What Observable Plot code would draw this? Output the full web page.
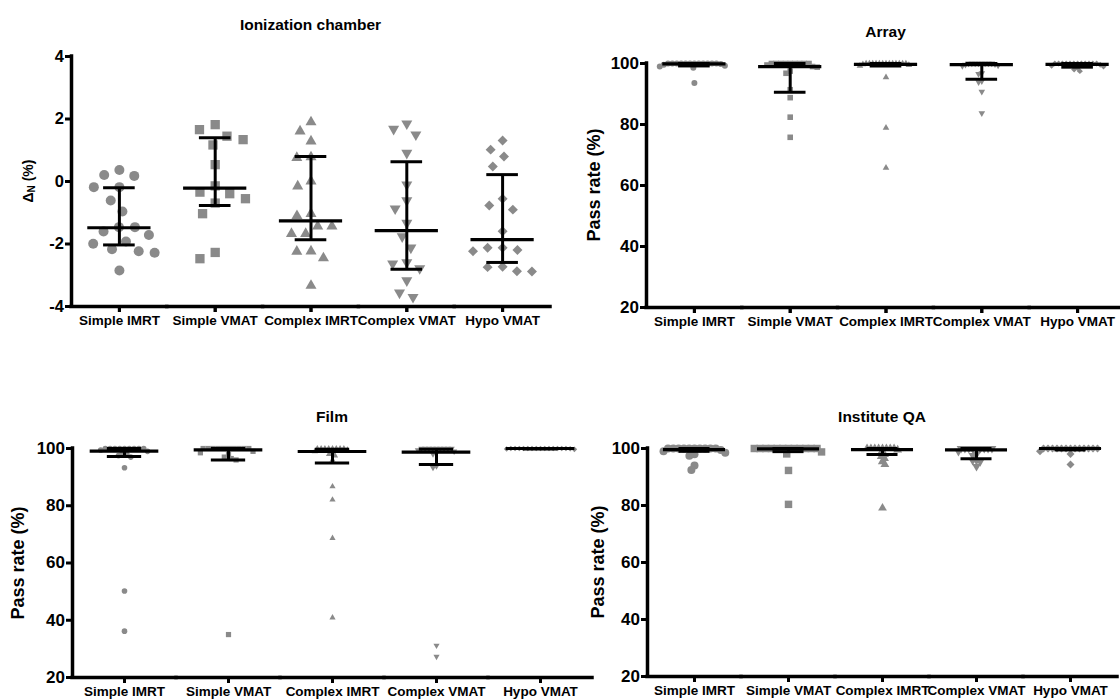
<!DOCTYPE html>
<html><head><meta charset="utf-8">
<script src="https://cdn.jsdelivr.net/npm/d3@7"></script>
<script src="https://cdn.jsdelivr.net/npm/@observablehq/plot@0.6"></script>
<style>
body{margin:0;background:#fff;overflow:hidden;font-family:"Liberation Sans",Arial,sans-serif;}
#wrap{position:relative;width:1120px;height:700px;overflow:hidden;}
.panel{position:absolute;}
.title{position:absolute;font-weight:bold;font-size:15.5px;transform:translate(-50%,-50%);white-space:nowrap;color:#000;}
.ylab{position:absolute;font-weight:bold;font-size:18px;transform:translate(-50%,-50%) rotate(-90deg);white-space:nowrap;color:#000;}
.ylab.small{font-size:14px;}
.ylab sub{font-size:10px;vertical-align:-2px;}
</style></head><body><div id="wrap"></div>
<script>
const categories = ["Simple IMRT", "Simple VMAT", "Complex IMRT", "Complex VMAT", "Hypo VMAT"];

// Ionization chamber: ΔN (%)
const ionizationValues = [
  [0.37, 0.21, 0.18, -0.18, -0.18, -0.61, -0.96, -1.46, -1.46, -1.6, -1.71, -1.92, -1.99, -2.17, -2.23, -2.28, -2.85],
  [1.82, 1.66, 1.45, 1.34, 1.17, 0.54, -0.14, -0.34, -0.39, -0.55, -0.69, -1.03, -2.27, -2.47],
  [1.9, 1.61, 1.29, 0.78, 0.76, 0.01, -0.15, -1.03, -1.1, -1.43, -1.43, -1.67, -1.67, -2.23, -2.24, -2.45, -3.33],
  [1.85, 1.68, 1.5, 0.91, -0.1, -0.61, -0.87, -1.33, -1.76, -2.12, -2.59, -2.63, -2.78, -3.17, -3.56, -3.7],
  [1.31, 1.02, 0.8, 0.48, -0.55, -0.77, -0.9, -1.59, -2.12, -2.12, -2.19, -2.23, -2.73, -2.74, -2.87, -2.88]
];
const ionizationMedian = [-1.48, -0.21, -1.26, -1.57, -1.86];
const ionizationQ1 = [-2.03, -0.77, -1.86, -2.81, -2.59];
const ionizationQ3 = [-0.2, 1.40, 0.8, 0.63, 0.22];

// Array: pass rate (%)
const arrayValues = [
  [100, 100, 100, 100, 100, 100, 100, 100, 100, 100, 100, 100, 99.8, 99.6, 99.3, 99, 98.6, 93.6],
  [100, 100, 100, 100, 100, 100, 100, 100, 100, 99.5, 99, 98.8, 97.5, 96.8, 91.4, 88.8, 82.4, 75.8],
  [100, 100, 100, 100, 100, 100, 100, 100, 100, 100, 100, 100, 100, 99.7, 99.5, 99.2, 95.5, 78.9, 65.8],
  [100, 100, 100, 100, 100, 100, 100, 100, 99.8, 99.6, 99.4, 99.2, 96.8, 96.6, 94.2, 93.9, 90.8, 83.7],
  [100, 100, 100, 100, 100, 100, 100, 100, 100, 100, 100, 100, 99.6, 99.3, 99, 98.5, 98, 97.5]
];
const arrayMedian = [99.9, 99.0, 99.7, 99.6, 99.7];
const arrayQ1 = [99.2, 90.6, 99.2, 94.8, 98.8];
const arrayQ3 = [100, 100, 100, 100, 100];

// Film: pass rate (%)
const filmValues = [
  [100, 100, 100, 100, 100, 100, 100, 100, 100, 99.5, 99, 98.5, 98, 97.5, 97, 93.3, 50.2, 36.2],
  [100, 100, 100, 100, 100, 100, 100, 100, 100, 100, 99, 98.5, 98, 97, 96.5, 96, 35.0],
  [100, 100, 100, 100, 100, 100, 100, 100, 99.5, 99, 98.5, 98, 97.5, 96, 86.7, 82.1, 68.7, 40.9],
  [100, 100, 100, 100, 100, 100, 100, 100, 100, 99.5, 99, 98.5, 98, 93.8, 93.3, 31.2, 27.3],
  [100, 100, 100, 100, 100, 100, 100, 100, 100, 100, 100, 100, 100, 100, 99.9, 99.8, 99.7]
];
const filmMedian = [99.1, 99.5, 98.95, 98.7, 100];
const filmQ1 = [97.2, 96.0, 94.9, 94.4, 99.8];
const filmQ3 = [100, 100, 99.7, 99.7, 100];

// Institute QA: pass rate (%)
const instituteValues = [
  [100, 100, 100, 100, 100, 100, 100, 100, 100, 100, 99.5, 99, 98.5, 98, 97.5, 94.0, 92.5],
  [100, 100, 100, 100, 100, 100, 100, 100, 100, 100, 100, 100, 98.8, 98.1, 92.3, 80.4],
  [100, 100, 100, 100, 100, 100, 100, 100, 99.5, 98.7, 97.9, 97.2, 96.5, 95.4, 94.4, 79.1],
  [100, 100, 100, 100, 100, 100, 100, 100, 100, 99, 98, 97.5, 95.8, 95.8, 95.4, 93.7],
  [100, 100, 100, 100, 100, 100, 100, 100, 100, 100, 100, 100, 100, 99, 98.1, 94.4]
];
const instituteMedian = [99.6, 99.9, 99.6, 99.5, 100];
const instituteQ1 = [99.0, 98.9, 97.9, 96.4, 99.5];
const instituteQ3 = [100, 100, 100, 100, 100];

const yTicksDelta = [-4, -2, 0, 2, 4];
const yTicksPass = [20, 40, 60, 80, 100];

// custom downward triangle symbol
const sqrt3 = Math.sqrt(3);
const triangleDown = {
  draw(context, size) {
    const y = -Math.sqrt(size / (sqrt3 * 3));
    context.moveTo(0, -y * 2);
    context.lineTo(-sqrt3 * y, y);
    context.lineTo(sqrt3 * y, y);
    context.closePath();
  }
};
const symbols = ["circle", "square", "triangle", triangleDown, "diamond2"];
const symbolScale = [1, 1.05, 0.82, 0.82, 0.9];

const panels = [
  {title: "Ionization chamber", ylabel: "Δ<sub>N</sub> (%)", small: true,
   values: ionizationValues, med: ionizationMedian, q1: ionizationQ1, q3: ionizationQ3,
   domain: [-4, 4], ticks: yTicksDelta, left: 0, top: 0, width: 560, height: 340,
   mL: 71, mR: 10, mT: 56, mB: 34, r: 5, pad: 6, tickFont: 16.5, ylabX: 28},
  {title: "Array", ylabel: "Pass rate (%)",
   values: arrayValues, med: arrayMedian, q1: arrayQ1, q3: arrayQ3,
   domain: [20, 100], ticks: yTicksPass, left: 560, top: 0, width: 570, height: 340,
   mL: 86, mR: 5, mT: 63, mB: 33, r: 3, pad: -1.6, tickFont: 17, ylabX: 594},
  {title: "Film", ylabel: "Pass rate (%)",
   values: filmValues, med: filmMedian, q1: filmQ1, q3: filmQ3,
   domain: [20, 100], ticks: yTicksPass, left: 0, top: 370, width: 600, height: 330,
   mL: 72, mR: 8, mT: 78, mB: 23, r: 2.8, pad: -0.8, tickFont: 17, ylabX: 18},
  {title: "Institute QA", ylabel: "Pass rate (%)",
   values: instituteValues, med: instituteMedian, q1: instituteQ1, q3: instituteQ3,
   domain: [20, 100], ticks: yTicksPass, left: 560, top: 370, width: 560, height: 330,
   mL: 87, mR: 3, mT: 78, mB: 24, r: 4, pad: -2.7, tickFont: 17, ylabX: 598}
];

const wrap = document.getElementById("wrap");
const FONT = "'Liberation Sans', Arial, sans-serif";
const TICK_PX = 6;

for (const p of panels) {
  const step = (p.width - p.mL - p.mR) / categories.length;
  const medInset = step * 0.17;
  const capInset = step * 0.335;
  const lo = p.domain[0], hi = p.domain[1];
  const frameH = p.height - p.mT - p.mB;
  const tickEnd = lo - (hi - lo) * TICK_PX / frameH; // tick mark length expressed in y units
  const stats = categories.map((c, i) => ({cat: c, median: p.med[i], q1: p.q1[i], q3: p.q3[i]}));
  const dotMarks = categories.map((c, i) =>
    Plot.dot(p.values[i].map(v => ({cat: c, v})),
      Plot.dodgeX({anchor: "middle", padding: p.pad},
        {fx: "cat", y: "v", r: p.r * symbolScale[i], symbol: symbols[i], fill: "#8a8a8a", stroke: "none"}))
  );
  const chart = Plot.plot({
    width: p.width, height: p.height,
    marginLeft: p.mL, marginRight: p.mR, marginTop: p.mT, marginBottom: p.mB,
    style: {background: "transparent", maxWidth: "none", overflow: "visible", fontFamily: FONT, color: "#000"},
    fx: {domain: categories, padding: 0, round: false, label: null},
    y: {domain: p.domain, label: null, clamp: false},
    marks: [
      ...dotMarks,
      Plot.ruleX(stats, {fx: "cat", x: null, y1: "q1", y2: "q3", stroke: "#000", strokeWidth: 3}),
      Plot.tickY(stats, {fx: "cat", y: "median", stroke: "#000", strokeWidth: 3.2, insetLeft: medInset, insetRight: medInset}),
      Plot.tickY(stats, {fx: "cat", y: "q1", stroke: "#000", strokeWidth: 3, insetLeft: capInset, insetRight: capInset}),
      Plot.tickY(stats, {fx: "cat", y: "q3", stroke: "#000", strokeWidth: 3, insetLeft: capInset, insetRight: capInset}),
      // x axis baseline
      Plot.ruleY([lo], {stroke: "#000", strokeWidth: 3.5, strokeLinecap: "square"}),
      // x axis tick marks below the baseline at each category
      Plot.ruleX(stats, {fx: "cat", x: null, y1: () => lo, y2: () => tickEnd, stroke: "#000", strokeWidth: 3}),
      // y axis line (left edge of first facet)
      Plot.ruleX([{cat: categories[0]}], {fx: "cat", x: null, y1: () => lo, y2: () => hi, dx: -step / 2,
        stroke: "#000", strokeWidth: 3.5, strokeLinecap: "square"}),
      Plot.axisY({ticks: p.ticks, tickSize: 6, tickPadding: 1.5, strokeWidth: 3, stroke: "#000",
        fontSize: p.tickFont, fontWeight: "bold", fill: "#000", label: null, tickFormat: d => String(d)}),
      Plot.axisFx({anchor: "bottom", tickSize: 6, tickPadding: 3, strokeWidth: 3, stroke: "#000",
        fontSize: 13.5, fontWeight: "bold", fill: "#000", label: null})
    ]
  });
  const div = document.createElement("div");
  div.className = "panel";
  div.style.left = p.left + "px";
  div.style.top = p.top + "px";
  div.appendChild(chart);
  wrap.appendChild(div);

  const t = document.createElement("div");
  t.className = "title";
  t.textContent = p.title;
  t.style.left = (p.left + (p.mL + p.width - p.mR) / 2) + "px";
  t.style.top = (p.top + p.mT - 31) + "px";
  wrap.appendChild(t);

  const yl = document.createElement("div");
  yl.className = "ylab" + (p.small ? " small" : "");
  yl.innerHTML = p.ylabel;
  yl.style.left = p.ylabX + "px";
  yl.style.top = (p.top + (p.mT + p.height - p.mB) / 2) + "px";
  wrap.appendChild(yl);
}
</script>
</body></html>
